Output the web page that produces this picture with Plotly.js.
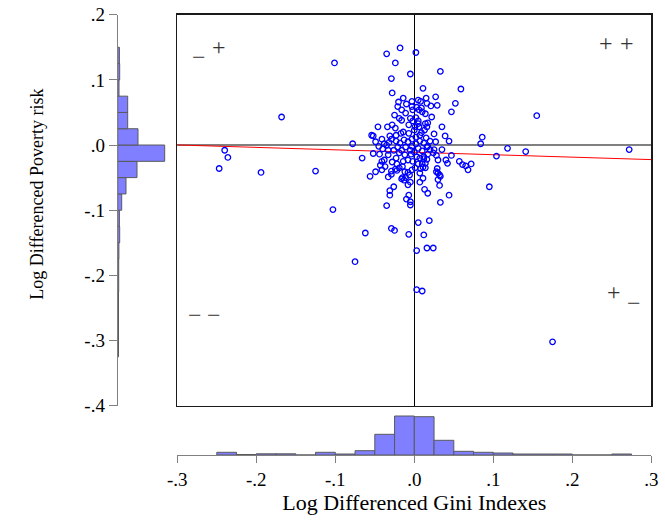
<!DOCTYPE html>
<html><head><meta charset="utf-8">
<script src="https://cdn.plot.ly/plotly-3.0.1.min.js"></script>
<style>html,body{margin:0;padding:0;background:#fff}#chart{width:665px;height:520px}</style>
</head><body><div id="chart"></div>
<script>
// Scatter data: log differenced Gini index (x) vs log differenced poverty risk (y)
const giniChange = [
-0.101,-0.168,-0.078,-0.240,-0.236,-0.247,-0.194,-0.125,-0.066,-0.103,
-0.035,-0.018,0.002,-0.024,-0.005,-0.029,-0.028,-0.014,-0.020,-0.003,
-0.010,-0.021,0.033,0.011,0.059,0.027,0.015,0.005,0.008,0.052,
0.016,0.029,0.047,-0.003,0.003,0.009,0.021,-0.002,0.006,0.010,
-0.025,-0.019,-0.016,-0.005,0.002,0.005,-0.014,-0.007,0.017,0.016,
0.013,0.009,0.007,0.035,0.025,0.039,0.044,0.086,0.084,0.118,
0.141,0.155,0.272,0.104,0.095,0.044,0.033,0.057,0.061,0.072,
0.068,0.047,0.040,0.042,0.028,0.035,0.025,0.020,0.027,0.028,
0.032,0.030,0.032,0.013,0.017,0.007,0.011,0.007,0.012,0.010,
0.008,-0.007,-0.010,-0.005,-0.005,0.005,0.019,-0.007,0.012,0.003,
0.016,0.024,0.003,0.010,0.175,-0.031,-0.031,-0.035,-0.062,-0.029,
-0.025,-0.075,-0.054,-0.052,-0.046,-0.034,-0.049,-0.041,-0.038,-0.031,
-0.029,-0.032,-0.035,-0.052,-0.044,-0.033,-0.041,-0.038,-0.043,-0.037,
-0.041,-0.056,-0.049,-0.033,-0.029,-0.029,-0.024,-0.022,-0.019,-0.015,
-0.015,-0.016,-0.013,-0.011,-0.008,-0.006,-0.003,-0.012,-0.005,-0.008,
-0.026,0.011,0.014,0.030,0.033,0.014,0.005,0.001,0.012,0.016,
0.014,0.030,0.065,0.029,
-0.023,-0.018,-0.013,-0.008,-0.003,-0.021,-0.016,-0.011,-0.005,-0.026,
-0.019,-0.012,-0.004,0.002,0.007,0.012,0.005,0.010,0.016,0.020,
0.015,0.002,0.000,0.003,-0.002,-0.008,-0.014,-0.023,-0.028,-0.022,
0.005,0.001,-0.017,-0.023,-0.007,0.000,-0.024,-0.002,-0.011,-0.016,
-0.028,0.006,0.022,0.014,0.017,0.024,0.017,0.007,-0.003,-0.033,
-0.040,-0.045
];
const povertyRisk = [
0.126,0.043,0.002,-0.008,-0.019,-0.036,-0.042,-0.040,-0.020,-0.099,
0.140,0.149,0.142,0.126,0.109,0.102,0.080,0.072,0.066,0.067,
0.063,0.059,0.113,0.087,0.086,0.074,0.072,0.069,0.067,0.064,
0.064,0.061,0.051,0.059,0.058,0.057,0.060,0.054,0.054,0.051,
0.046,0.041,0.038,0.041,0.042,0.037,0.020,0.031,0.034,0.028,
0.023,0.019,0.015,0.028,0.017,0.014,0.006,0.012,0.002,-0.005,
-0.010,0.045,-0.007,-0.017,-0.064,-0.077,-0.088,-0.025,-0.030,-0.029,
-0.038,-0.016,-0.023,-0.028,-0.016,-0.007,-0.007,-0.007,0.005,-0.041,
-0.046,-0.053,-0.062,-0.068,-0.074,-0.043,-0.051,-0.057,-0.021,-0.029,
-0.036,-0.077,-0.083,-0.087,-0.092,-0.119,-0.116,-0.137,-0.138,-0.162,
-0.158,-0.158,-0.222,-0.224,-0.302,-0.070,-0.077,-0.093,-0.135,-0.128,
-0.131,-0.179,0.015,0.014,0.028,0.028,0.005,0.009,0.002,0.014,
0.009,0.004,0.000,-0.013,-0.014,-0.015,-0.025,-0.023,-0.031,-0.033,
-0.038,-0.048,-0.041,-0.049,-0.045,-0.040,-0.037,-0.039,-0.035,-0.033,
-0.050,-0.052,-0.054,-0.050,-0.042,-0.046,-0.038,-0.041,-0.057,-0.061,
-0.064,-0.034,-0.035,-0.043,-0.048,0.033,0.033,0.028,-0.018,-0.022,
-0.028,-0.023,-0.032,-0.036,
0.006,0.003,0.008,0.005,0.009,-0.003,-0.008,-0.003,-0.008,-0.008,
-0.012,-0.015,-0.014,0.002,0.006,0.003,-0.005,-0.009,-0.003,0.006,
0.011,0.012,-0.011,-0.018,-0.025,-0.023,-0.025,-0.020,-0.026,-0.029,
-0.029,-0.035,0.018,0.015,0.018,0.023,0.026,0.037,0.049,0.054,
0.031,0.028,0.043,0.048,-0.002,-0.012,-0.014,-0.020,-0.002,-0.008,
-0.006,-0.002
];
// Fitted regression line
const fitIntercept = -0.0111;
const fitSlope = -0.0375;
const fitRange = [-0.3, 0.3];
// Marginal histograms (bin width 0.025)
const binWidth = 0.025;
const giniBinStart = -0.25;
const giniHist = [2.7,0.5,1.2,1.2,0,2.7,1,4.3,20.7,39,38.3,14.7,3.7,2.7,2,1,1,1,0,0,1];
const povBinStart = -0.325;
const povHist = [0.8,0.8,0.8,0.8,1,1,1.2,2,1.7,4,8.3,19.3,47,20.3,10,10,1.3,2,1.7];
// Tick labels
const xTickVals = [-0.3,-0.2,-0.1,0,0.1,0.2,0.3];
const xTickText = ['-.3','-.2','-.1','.0','.1','.2','.3'];
const yTickVals = [-0.4,-0.3,-0.2,-0.1,0,0.1,0.2];
const yTickText = ['-.4','-.3','-.2','-.1','.0','.1','.2'];
const quadrantSigns = ['\u2212','+','+','+','\u2212','\u2212','+','\u2212'];

const W = 665, H = 520;
const px = v => v / W, py = v => 1 - v / H;
const giniCenters = giniHist.map((_, i) => giniBinStart + binWidth * (i + 0.5));
const povCenters = povHist.map((_, i) => povBinStart + binWidth * (i + 0.5));
const fitY = fitRange.map(x => fitIntercept + fitSlope * x);

const FONT = '"Liberation Serif", "Times New Roman", serif';
const barColor = '#7f7fff', barLine = '#5a5a5a', gray = '#808080';

const traces = [
  {type:'scatter', mode:'lines', x: fitRange, y: fitY, xaxis:'x', yaxis:'y',
   line:{color:'#ff0000', width:1}, hoverinfo:'skip', showlegend:false},
  {type:'scatter', mode:'markers', x: giniChange, y: povertyRisk, xaxis:'x', yaxis:'y',
   marker:{symbol:'circle-open', size:5.5, color:'#0000ff', line:{width:1.3, color:'#0000ff'}},
   showlegend:false},
  {type:'bar', x: giniCenters, y: giniHist, width: binWidth, xaxis:'x2', yaxis:'y2',
   marker:{color:barColor, line:{color:barLine, width:1}}, showlegend:false},
  {type:'bar', orientation:'h', y: povCenters, x: povHist, width: binWidth, xaxis:'x3', yaxis:'y3',
   marker:{color:barColor, line:{color:barLine, width:1}}, showlegend:false}
];

const signPos = [[198.8,56.7],[218.7,46.7],[606.3,43.3],[627,43.3],[194.7,315],[214,315],[614,292.3],[634,302.7]];
const annotations = quadrantSigns.map((s, i) => ({
  text: s, xref:'paper', yref:'paper', x: px(signPos[i][0]), y: py(signPos[i][1]),
  xanchor:'center', yanchor:'middle', showarrow:false,
  font:{family:FONT, size:24, color:'#333'}
}));
annotations.push({
  text:'Log Differenced Poverty risk', xref:'paper', yref:'paper',
  x: px(36.7), y: py(194), textangle:-90, xanchor:'center', yanchor:'middle',
  showarrow:false, font:{family:FONT, size:18, color:'#000'}
});

const mainXDom = [px(177.3), px(651.3)];
const mainYDom = [py(405.7), py(14.7)];

const layout = {
  width: W, height: H, margin:{l:0, r:0, t:0, b:0},
  paper_bgcolor:'#fff', plot_bgcolor:'rgba(0,0,0,0)',
  bargap: 0, showlegend:false, font:{family:FONT},
  xaxis:{domain: mainXDom, range:[-0.3,0.3], anchor:'y', showgrid:false,
    zeroline:true, zerolinecolor:'#000', zerolinewidth:1,
    showline:true, mirror:true, linecolor:'#1a1a1a', linewidth:1.6,
    ticks:'', showticklabels:false},
  yaxis:{domain: mainYDom, range:[-0.4,0.2], anchor:'x', showgrid:false,
    zeroline:true, zerolinecolor:gray, zerolinewidth:1.5,
    showline:true, mirror:true, linecolor:'#1a1a1a', linewidth:1.6,
    ticks:'', showticklabels:false},
  xaxis2:{domain: mainXDom, range:[-0.3,0.3], anchor:'y2', showgrid:false, zeroline:false,
    showline:true, linecolor:gray, linewidth:1, ticks:'outside', ticklen:7, tickcolor:gray,
    tickvals:xTickVals, ticktext:xTickText, tickfont:{family:FONT, size:19, color:'#000'},
    title:{text:'Log Differenced Gini Indexes', font:{family:FONT, size:22, color:'#000'}, standoff:1}},
  yaxis2:{domain:[py(455), py(410)], range:[0,45], anchor:'x2', visible:false},
  xaxis3:{domain:[px(117.7), px(167.7)], range:[0,50], anchor:'y3', visible:false},
  yaxis3:{domain: mainYDom, range:[-0.4,0.2], anchor:'x3', side:'left', showgrid:false, zeroline:false,
    showline:true, linecolor:gray, linewidth:1, ticks:'outside', ticklen:8, tickcolor:gray,
    tickvals:yTickVals, ticktext:yTickText, tickfont:{family:FONT, size:19, color:'#000'}},
  annotations: annotations
};

Plotly.newPlot('chart', traces, layout, {staticPlot:true, displayModeBar:false});
</script></body></html>
